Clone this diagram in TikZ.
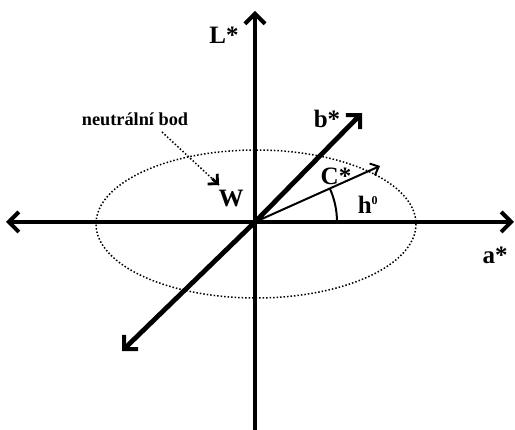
\documentclass[tikz,border=0pt]{standalone}
\usepackage{fontspec}
\setmainfont{Liberation Serif}
\usetikzlibrary{arrows.meta,calc}
\begin{document}
\begin{tikzpicture}[x=1pt,y=-1pt,
  axis/.style={line width=4.8pt,-{Straight Barb[length=10pt,width=20pt,line width=4pt]}},
  thinvec/.style={line width=2pt,-{Straight Barb[length=7pt,width=13pt,line width=2pt]}},
  lbl/.style={font=\bfseries\fontsize{25}{25}\selectfont,inner sep=0pt},
  note/.style={font=\bfseries\fontsize{18.3}{18.3}\selectfont,inner sep=0pt}]
\useasboundingbox (0,0) rectangle (515,430);
\coordinate (O) at (255,222);
\coordinate (top) at (255,11);
\coordinate (bot) at (255,430);
\coordinate (left) at (6,222);
\coordinate (right) at (514,222);
\coordinate (bend) at (362,113);
\coordinate (bneg) at (122,351);
\coordinate (cend) at (380,166);
% ellipse
\draw[dotted,line width=1.5pt] (256,224) ellipse [x radius=160, y radius=74];
% axes
\draw[axis] (bot) -- (top);
\draw[axis] (O) -- (left);
\draw[axis] (O) -- (right);
\draw[axis] (O) -- (bend);
\draw[axis] (O) -- (bneg);
\draw[thinvec] (O) -- (cend);
% angle arc
\draw[line width=2pt] (337,222) arc[start angle=0, end angle=-24.0, radius=82];
% labels
\node[lbl] (L) at (224,35) {L*};
\node[lbl] (a) at (495,255) {a*};
\node[lbl] (b) at (327,119) {b*};
\node[lbl] (C) at (336,176) {C*};
\node[lbl] (h) at (368,205) {h\textsuperscript{\fontsize{12}{12}\selectfont 0}};
\node[lbl] (W) at (231,199) {W};
\node[note] (nb) at (135,119) {neutrální bod};
\coordinate (ns) at (162,132);
\coordinate (ne) at (219,185);
\draw[dotted,line width=1.5pt] (ns) -- (ne);
\draw[line width=2.8pt,-{Straight Barb[length=7pt,width=14pt,line width=2.8pt]}] ($(ns)!0.88!(ne)$) -- (ne);
\end{tikzpicture}
\end{document}
